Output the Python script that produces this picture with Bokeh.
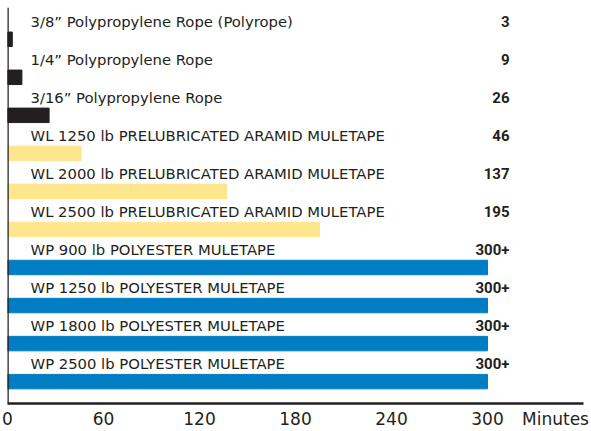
from bokeh.plotting import figure
from bokeh.models import Range1d, LinearAxis, FixedTicker, Span, ColumnDataSource
from bokeh.core.properties import value
from bokeh.embed import file_html
from bokeh.resources import INLINE

# ---- data ----
categories = [
    "3/8\u201d Polypropylene Rope (Polyrope)",
    "1/4\u201d Polypropylene Rope",
    "3/16\u201d Polypropylene Rope",
    "WL 1250 lb PRELUBRICATED ARAMID MULETAPE",
    "WL 2000 lb PRELUBRICATED ARAMID MULETAPE",
    "WL 2500 lb PRELUBRICATED ARAMID MULETAPE",
    "WP 900 lb POLYESTER MULETAPE",
    "WP 1250 lb POLYESTER MULETAPE",
    "WP 1800 lb POLYESTER MULETAPE",
    "WP 2500 lb POLYESTER MULETAPE",
]
minutes = [3, 9, 26, 46, 137, 195, 300, 300, 300, 300]
value_labels = ["3", "9", "26", "46", "137", "195", "300+", "300+", "300+", "300+"]
groups = ["rope", "rope", "rope", "aramid", "aramid", "aramid",
          "polyester", "polyester", "polyester", "polyester"]
tick_values = [0, 60, 120, 180, 240, 300]
axis_title = "Minutes"
x_max = 360

group_colors = {"rope": "#231f20", "aramid": "#fde68c", "polyester": "#007dc3"}
FONT = "DejaVu Sans"
BOLD_FONT = "Roboto"
TEXT_COLOR = "#231f20"

idx = list(range(len(categories)))
src = ColumnDataSource(dict(
    y=idx,
    label_y=[i - 0.47 for i in idx],
    cat=categories,
    minutes=minutes,
    vlabel=value_labels,
    vx=[max(minutes)] * len(idx),
    color=[group_colors[g] for g in groups],
))

p = figure(width=591, height=431, output_backend="svg", toolbar_location=None,
           x_range=Range1d(0, x_max),
           y_range=Range1d(9.575, -0.835),
           x_axis_type=None, y_axis_type=None,
           min_border_left=7, min_border_right=8, min_border_top=7,
           min_border_bottom=25)
p.outline_line_color = None
p.xgrid.visible = False
p.ygrid.visible = False

p.hbar(y="y", left=0, right="minutes", height=0.38, color="color", source=src)

p.text(x=0, y="label_y", text="cat", source=src, x_offset=23,
       text_baseline="middle", text_align="left",
       text_font=value(FONT), text_font_size="14.8px", text_color=TEXT_COLOR)
p.text(x="vx", y="label_y", text="vlabel", source=src, x_offset=22,
       text_baseline="middle", text_align="right",
       text_font=value(BOLD_FONT), text_font_size="15px", text_font_style="bold",
       text_color=TEXT_COLOR)

p.add_layout(Span(location=0, dimension="height", line_color=TEXT_COLOR,
                  line_width=2.5, level="overlay"))

ax = LinearAxis()
title_tick = 342.5
ax.ticker = FixedTicker(ticks=tick_values + [title_tick])
ax.major_label_overrides = {title_tick: axis_title}
ax.axis_line_color = TEXT_COLOR
ax.axis_line_width = 2.5
ax.major_tick_line_color = None
ax.minor_tick_line_color = None
ax.major_tick_out = 0
ax.major_tick_in = 0
ax.major_label_standoff = 5
ax.major_label_text_font = FONT
ax.major_label_text_font_size = "17px"
ax.major_label_text_color = TEXT_COLOR
p.add_layout(ax, "below")

open("out.html", "w").write(file_html(p, INLINE))
